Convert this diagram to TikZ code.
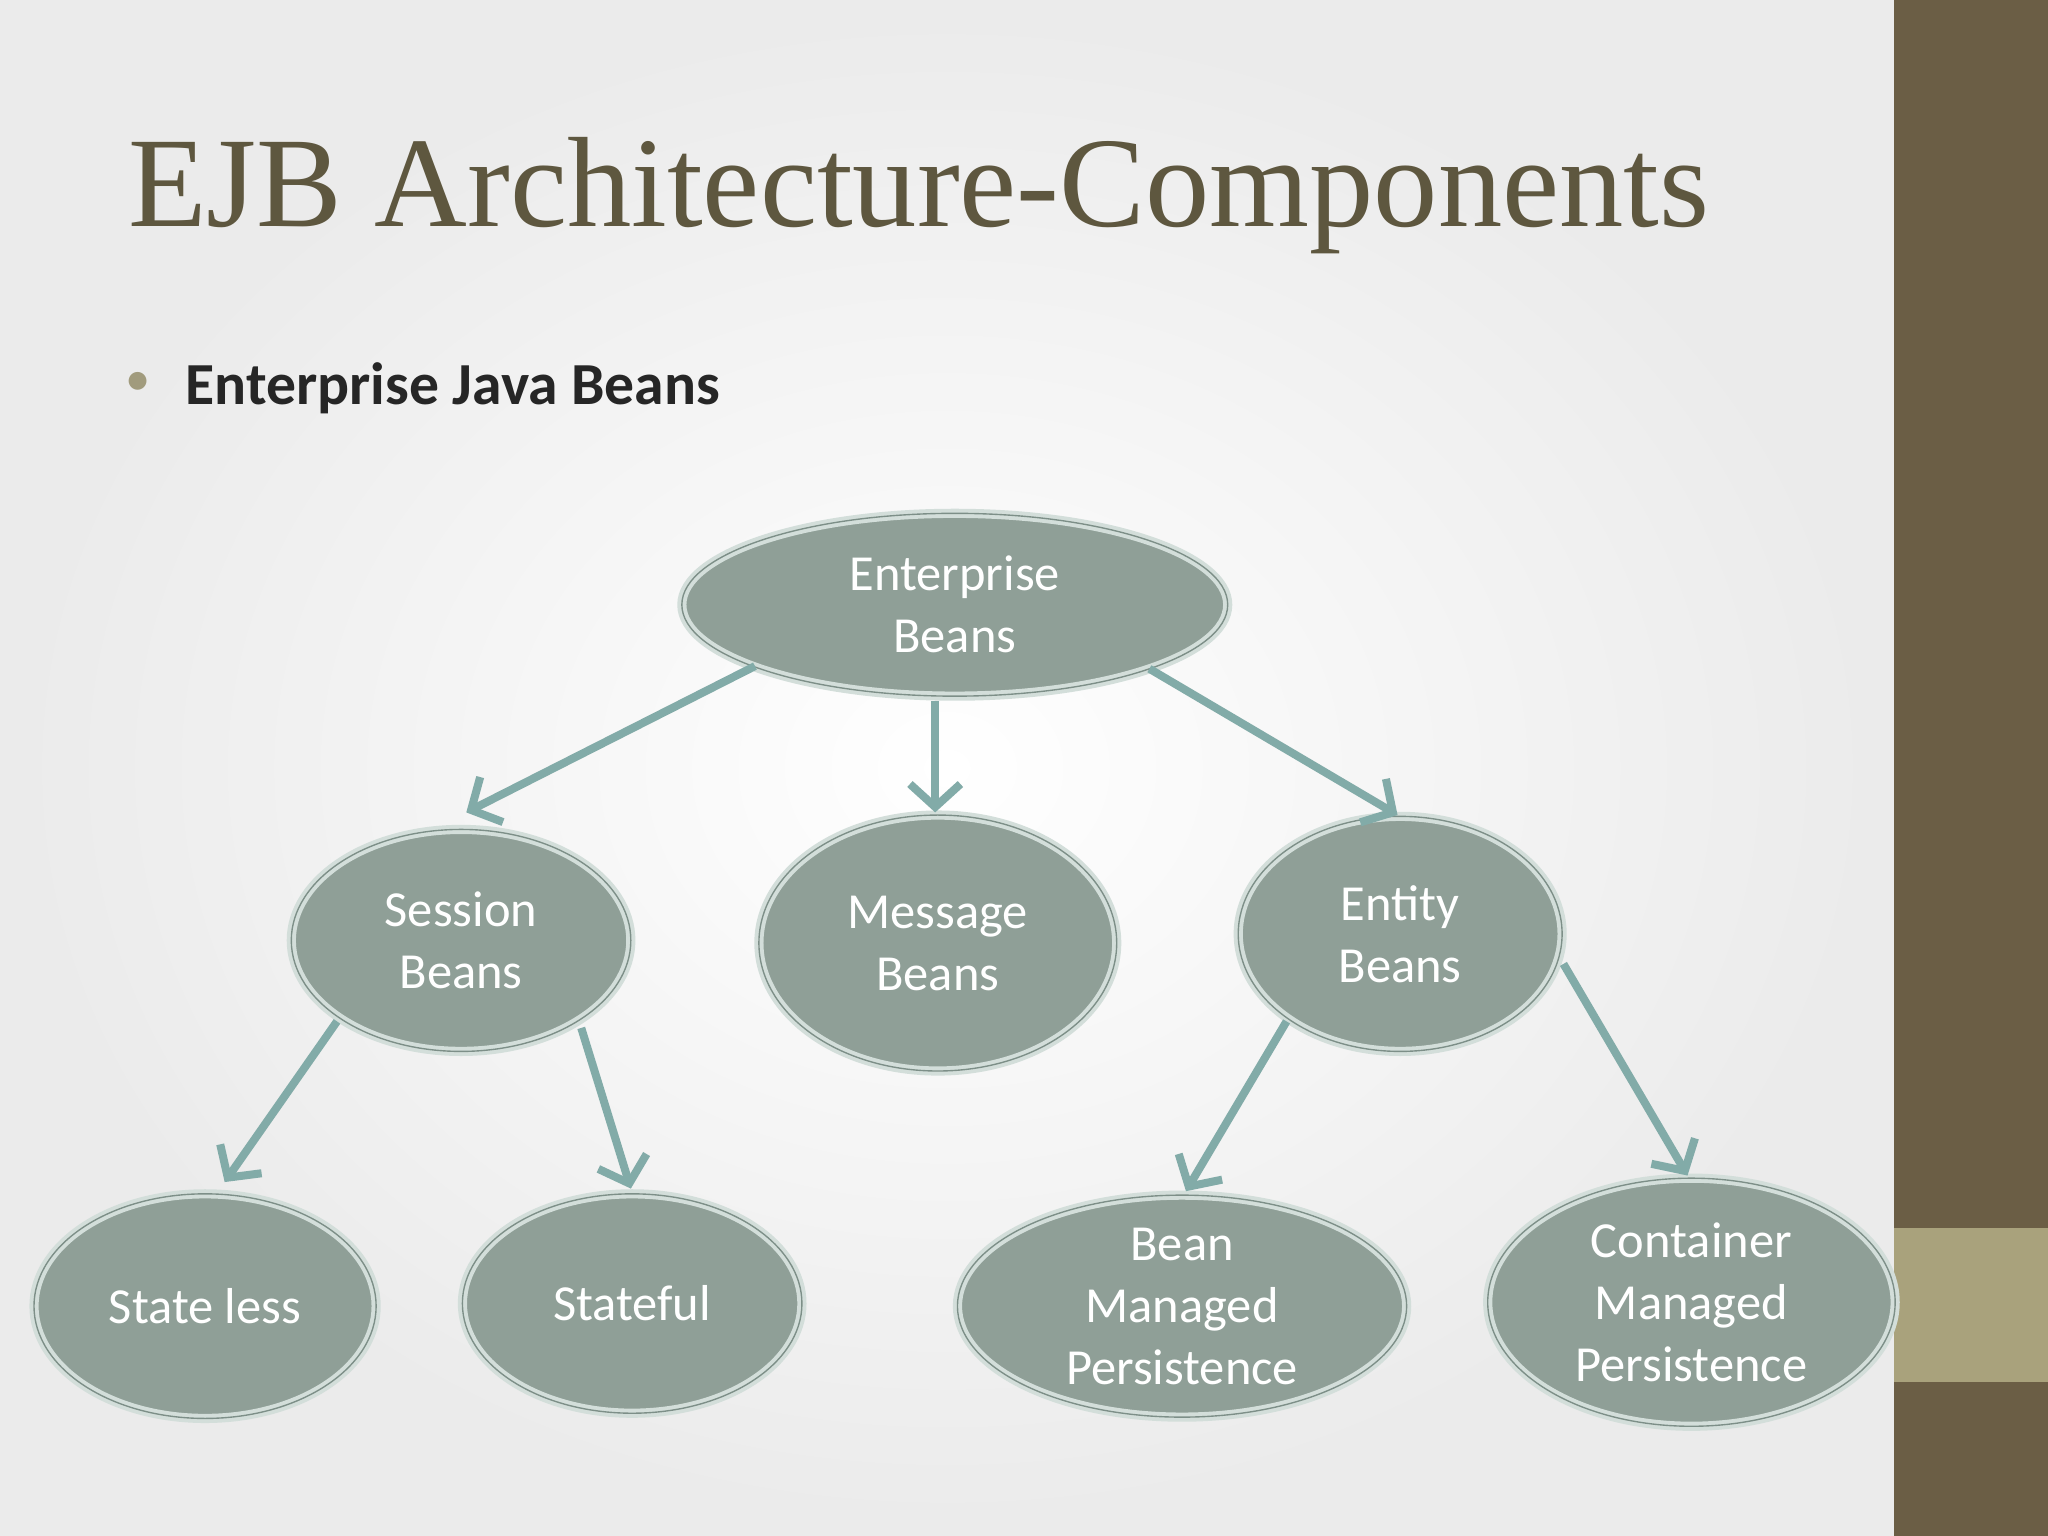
\documentclass[tikz,border=0pt]{standalone}
\usepackage{fontspec}
\setmainfont{Carlito}
\newfontfamily\titlefont{Liberation Serif}
\usetikzlibrary{arrows.meta,shapes.geometric}
\definecolor{bar}{HTML}{6B5E45}
\definecolor{barlight}{HTML}{A9A27C}
\definecolor{nodefill}{HTML}{8F9F97}
\definecolor{rim}{HTML}{D3DEDA}
\definecolor{rimdark}{HTML}{7D8F88}
\definecolor{arr}{HTML}{82ABA8}
\definecolor{titlec}{HTML}{5E573F}
\begin{document}
\begin{tikzpicture}[x=0.02cm,y=-0.02cm,
  bean/.style={ellipse,fill=nodefill,draw=rim,line width=4pt,text=white,
    font=\fontsize{22}{27}\selectfont,align=center,inner sep=0pt,
    postaction={draw=rimdark,line width=0.6pt}},
  link/.style={draw=arr,line width=3.5pt,-{Straight Barb[length=10pt,width=22pt,line width=3.5pt]}}]
\useasboundingbox (0,0) rectangle (1568,1176);
\shade[inner color=white,outer color=black!8] (0,0) rectangle (1450,1176);
\fill[bar] (1450,0) rectangle (1568,1176);
\fill[barlight] (1450,940) rectangle (1568,1058);
\node[anchor=west,text=titlec,font=\titlefont\fontsize{56}{66}\selectfont] (title) at (92,150) {EJB Architecture-Components};
\node[anchor=west,font=\bfseries\fontsize{26}{31}\selectfont,text=black!85] (sub) at (136,297) {Enterprise Java Beans};
\node[text=barlight!80!gray,font=\fontsize{22}{26}\selectfont] (bul) at (106,294) {•};
\node[bean,minimum width=8.36cm,minimum height=2.8cm] (eb) at (731,463) {Enterprise\\Beans};
\node[bean,minimum width=5.2cm,minimum height=3.4cm] (sb) at (353,720) {Session\\Beans};
\node[bean,minimum width=5.48cm,minimum height=3.92cm] (mb) at (718,722) {Message\\Beans};
\node[bean,minimum width=4.96cm,minimum height=3.6cm] (enb) at (1072,715) {Entity\\Beans};
\node[bean,minimum width=5.24cm,minimum height=3.44cm] (sl) at (157,1000) {State less};
\node[bean,minimum width=5.2cm,minimum height=3.36cm] (sf) at (484,998) {Stateful};
\node[bean,minimum width=6.88cm,minimum height=3.4cm] (bmp) at (905,1000) {Bean\\Managed\\Persistence};
\node[bean,minimum width=6.24cm,minimum height=3.8cm] (cmp) at (1295,997) {Container\\Managed\\Persistence};
\coordinate (t1) at (357,622); \coordinate (t2) at (716,622);
\coordinate (t3) at (1070,624); \coordinate (t4) at (172,905);
\coordinate (t5) at (483,910); \coordinate (t6) at (908,912);
\coordinate (t7) at (1292,900);
\coordinate (s1) at (578,510); \coordinate (s2) at (716,537);
\coordinate (s3) at (880,512); \coordinate (s4) at (258,782);
\coordinate (s5) at (445,787); \coordinate (s6) at (985,782);
\coordinate (s7) at (1197,738);
\draw[link] (s1) -- (t1);
\draw[link] (s2) -- (t2);
\draw[link] (s3) -- (t3);
\draw[link] (s4) -- (t4);
\draw[link] (s5) -- (t5);
\draw[link] (s6) -- (t6);
\draw[link] (s7) -- (t7);
\end{tikzpicture}
\end{document}
